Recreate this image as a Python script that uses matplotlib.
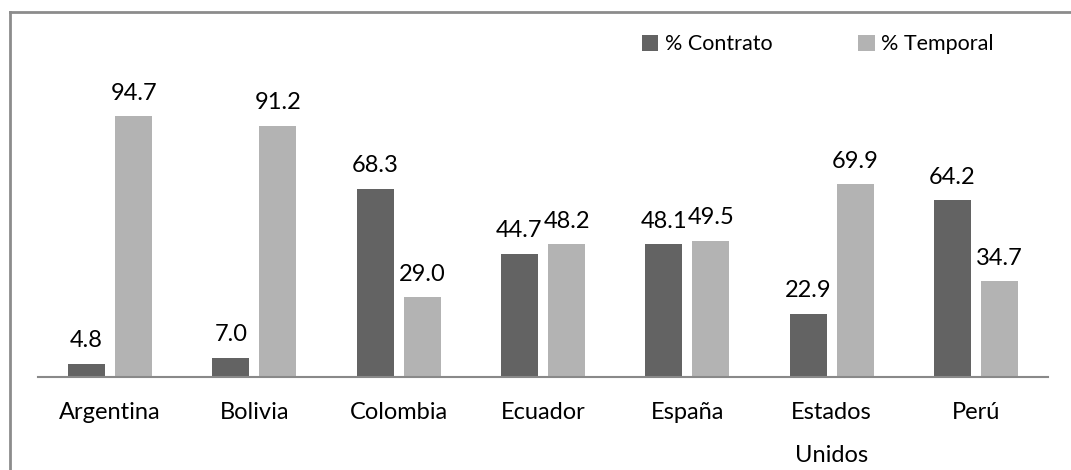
import matplotlib
matplotlib.use("Agg")
import matplotlib.pyplot as plt
from matplotlib.lines import Line2D
import numpy as np

plt.rcParams['font.family'] = ['Lato', 'DejaVu Sans']

countries = ["Argentina", "Bolivia", "Colombia", "Ecuador", "España", "Estados\nUnidos", "Perú"]
contrato = [4.8, 7.0, 68.3, 44.7, 48.1, 22.9, 64.2]
temporal = [94.7, 91.2, 29.0, 48.2, 49.5, 69.9, 34.7]
series_names = ["% Contrato", "% Temporal"]
colors = ["#636363", "#b3b3b3"]

fig = plt.figure(figsize=(10.71, 4.70), dpi=100)
ax = fig.add_axes([0.0355, 0.198, 0.943, 0.586])

x = np.arange(len(countries))
w = 0.256
off = w / 2 + 0.035
b1 = ax.bar(x - off, contrato, w, color=colors[0], label=series_names[0])
b2 = ax.bar(x + off, temporal, w, color=colors[1], label=series_names[1])

for bars, vals in ((b1, contrato), (b2, temporal)):
    for rect, v in zip(bars, vals):
        ax.annotate(f"{v:.1f}", (rect.get_x() + rect.get_width() / 2, v),
                    xytext=(0, 9), textcoords="offset points",
                    ha="center", va="bottom", fontsize=17, color="#000000")

ax.set_xlim(-0.5, len(countries) - 0.5)
ax.set_ylim(0, 100)
ax.set_xticks(x)
ax.set_xticklabels(countries, fontsize=17, linespacing=2.3)
ax.tick_params(axis="x", length=0, pad=18)
ax.set_yticks([])
for s in ("left", "right", "top"):
    ax.spines[s].set_visible(False)
ax.spines["bottom"].set_color("#898989")
ax.spines["bottom"].set_linewidth(1.5)

leg = fig.legend(loc="center left", bbox_to_anchor=(0.5915, 0.906), ncol=2,
                 frameon=False, fontsize=15.5, handlelength=0.75, handleheight=0.75,
                 handletextpad=0.3, columnspacing=4.0, borderaxespad=0)

# figure frame: left and top edges
fig.add_artist(Line2D([9.5 / 1071, 9.5 / 1071], [0, 1 - 12 / 470],
                      transform=fig.transFigure, color="#8c8c8c", lw=2))
fig.add_artist(Line2D([9.5 / 1071, 1], [1 - 12 / 470, 1 - 12 / 470],
                      transform=fig.transFigure, color="#8c8c8c", lw=2))

fig.savefig("out.png", dpi=100)
